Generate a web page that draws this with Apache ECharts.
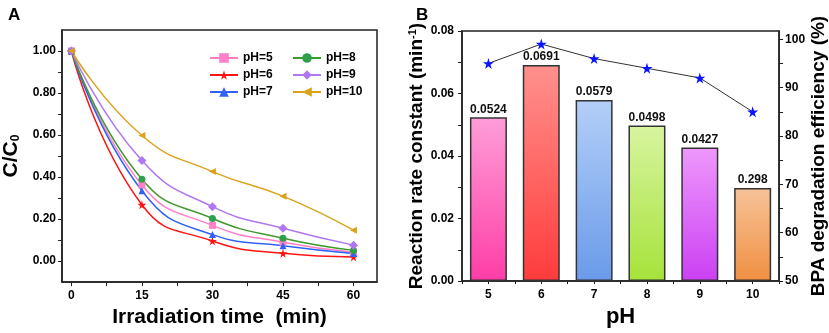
<!DOCTYPE html>
<html>
<head>
<meta charset="utf-8">
<script src="https://cdn.jsdelivr.net/npm/echarts@6/dist/echarts.min.js"></script>
<style>
  html, body { margin: 0; padding: 0; background: #fff; }
  #main { width: 829px; height: 333px; }
</style>
</head>
<body>
<div id="main"></div>
<script>
// panel A: C/C0 vs irradiation time
var times = [0, 15, 30, 45, 60];
var ph5 = [1.0, 0.362, 0.170, 0.090, 0.042];
var ph6 = [1.0, 0.268, 0.096, 0.037, 0.020];
var ph7 = [1.0, 0.335, 0.126, 0.073, 0.036];
var ph8 = [1.0, 0.390, 0.203, 0.109, 0.051];
var ph9 = [1.0, 0.479, 0.259, 0.156, 0.076];
var ph10 = [1.0, 0.598, 0.426, 0.309, 0.147];

// panel B: rate constant + efficiency vs pH
var phValues = [5, 6, 7, 8, 9, 10];
var rateK = [0.0524, 0.0691, 0.0579, 0.0498, 0.0427, 0.0298];
var rateLabels = ['0.0524', '0.0691', '0.0579', '0.0498', '0.0427', '0.298'];
var efficiency = [95, 99, 96, 94, 92, 85];

var yTicksA = [0, 0.2, 0.4, 0.6, 0.8, 1.0];
var xTicksA = [0, 15, 30, 45, 60];
var yTicksB = [0, 0.02, 0.04, 0.06, 0.08];
var y2TicksB = [50, 60, 70, 80, 90, 100];

var FONT = 'Arial, "Liberation Sans", sans-serif';
var barTop = ['#ff9ed8', '#ff918d', '#b3cff7', '#d8f4a0', '#ee98fc', '#f7c398'];
var barBottom = ['#ff3da6', '#ff3b3b', '#6a9aea', '#a5e33a', '#cb40f3', '#f08f42'];
var starPath = 'path://M50,0 L61,35 L98,35 L68,57 L79,91 L50,70 L21,91 L32,57 L2,35 L39,35 Z';

function pairs(xs, ys) {
  return xs.map(function (x, i) { return [x, ys[i]]; });
}
function steps(a, b, s) {
  var out = [];
  for (var v = a; v <= b + 1e-9; v += s) out.push(+v.toFixed(4));
  return out;
}

var chart = echarts.init(document.getElementById('main'));

var lineCommon = {
  type: 'line', smooth: 0.5, xAxisIndex: 0, yAxisIndex: 0,
  symbolSize: 7, lineStyle: { width: 1.5 }
};
function phSeries(name, ys, color, symbol, extra) {
  return Object.assign({}, lineCommon, {
    name: name, data: pairs(times, ys), symbol: symbol,
    itemStyle: { color: color }, lineStyle: { width: 1.5, color: color }
  }, extra || {});
}

var axisLabelStyle = { color: '#000', fontWeight: 'bold', fontSize: 12, fontFamily: FONT };
var axisLineStyle = { lineStyle: { color: '#222', width: 1.5 }, onZero: false };
var nameStyle = { color: '#000', fontWeight: 'bold', fontFamily: FONT };

var option = {
  backgroundColor: '#fff',
  animation: false,
  title: [
    { text: 'A', left: 3, top: 2, textStyle: { fontSize: 17, fontWeight: 'bold', fontFamily: FONT, color: '#000' } },
    { text: 'B', left: 411, top: 2, textStyle: { fontSize: 17, fontWeight: 'bold', fontFamily: FONT, color: '#000' } }
  ],
  legend: [
    {
      data: ['pH=5', 'pH=6', 'pH=7'], orient: 'vertical', left: 204, top: 47,
      itemWidth: 28, itemHeight: 12, itemGap: 5,
      textStyle: { fontSize: 12, fontWeight: 'bold', fontFamily: FONT, color: '#000' }
    },
    {
      data: ['pH=8', 'pH=9', 'pH=10'], orient: 'vertical', left: 287, top: 47,
      itemWidth: 28, itemHeight: 12, itemGap: 5,
      textStyle: { fontSize: 12, fontWeight: 'bold', fontFamily: FONT, color: '#000' }
    }
  ],
  grid: [
    { left: 59, right: 452, top: 30, bottom: 47, show: true, borderColor: '#222', borderWidth: 1.5 },
    { left: 462, right: 47, top: 31, bottom: 46, show: true, borderColor: '#222', borderWidth: 1.5 }
  ],
  xAxis: [
    {
      type: 'value', gridIndex: 0, min: -2, max: 65,
      axisLine: axisLineStyle, splitLine: { show: false },
      axisTick: { customValues: steps(0, 60, 7.5), length: 4, lineStyle: { color: '#222' } },
      axisLabel: Object.assign({ customValues: xTicksA, margin: 8 }, axisLabelStyle),
      name: 'Irradiation time  (min)', nameLocation: 'middle', nameGap: 21,
      nameTextStyle: Object.assign({ fontSize: 21 }, nameStyle)
    },
    {
      type: 'value', gridIndex: 1, min: 4.5, max: 10.5,
      axisLine: axisLineStyle, splitLine: { show: false },
      axisTick: { customValues: steps(4.5, 10.5, 0.5), length: 3, lineStyle: { color: '#222' } },
      axisLabel: Object.assign({ customValues: phValues, margin: 8 }, axisLabelStyle),
      name: 'pH', nameLocation: 'middle', nameGap: 21,
      nameTextStyle: Object.assign({ fontSize: 22 }, nameStyle)
    }
  ],
  yAxis: [
    {
      type: 'value', gridIndex: 0, min: -0.1, max: 1.1,
      axisLine: axisLineStyle, splitLine: { show: false },
      axisTick: { customValues: steps(0, 1.0, 0.1), length: 4, lineStyle: { color: '#222' } },
      axisLabel: Object.assign({
        customValues: yTicksA, margin: 6,
        formatter: function (v) { return v.toFixed(2); }
      }, axisLabelStyle),
      name: '{a|C/C}{b|0}', nameLocation: 'middle', nameGap: 40, nameRotate: 90,
      nameTextStyle: {
        rich: {
          a: Object.assign({ fontSize: 21 }, nameStyle),
          b: Object.assign({ fontSize: 12, verticalAlign: 'bottom', padding: [8, 0, 0, 0] }, nameStyle)
        }
      }
    },
    {
      type: 'value', gridIndex: 1, min: 0, max: 0.08,
      axisLine: axisLineStyle, splitLine: { show: false },
      axisTick: { customValues: steps(0, 0.08, 0.01), length: 4, lineStyle: { color: '#222' } },
      axisLabel: Object.assign({
        customValues: yTicksB, margin: 8,
        formatter: function (v) { return v.toFixed(2); }
      }, axisLabelStyle),
      name: '{a|Reaction rate constant (min}{s|-1}{a|)}', nameLocation: 'middle', nameGap: 36, nameRotate: 90,
      nameTextStyle: {
        rich: {
          a: Object.assign({ fontSize: 19 }, nameStyle),
          s: Object.assign({ fontSize: 11, verticalAlign: 'top', padding: [0, 0, 8, 0] }, nameStyle)
        }
      }
    },
    {
      type: 'value', gridIndex: 1, position: 'right', min: 50, max: 101.7,
      axisLine: axisLineStyle, splitLine: { show: false },
      axisTick: { customValues: steps(50, 100, 5), length: 4, lineStyle: { color: '#222' } },
      axisLabel: Object.assign({ customValues: y2TicksB, margin: 6 }, axisLabelStyle),
      name: 'BPA degradation efficiency (%)', nameLocation: 'middle', nameGap: 26, nameRotate: 90,
      nameTextStyle: Object.assign({ fontSize: 19 }, nameStyle)
    }
  ],
  series: [
    phSeries('pH=5', ph5, '#ff80c6', 'rect'),
    phSeries('pH=6', ph6, '#ff1414', starPath, { symbolSize: 9 }),
    phSeries('pH=7', ph7, '#2f62f5', 'triangle'),
    phSeries('pH=8', ph8, '#3f9a2c', 'circle', { itemStyle: { color: '#2fa04a' } }),
    phSeries('pH=9', ph9, '#b077f0', 'diamond', { symbolSize: 9 }),
    phSeries('pH=10', ph10, '#dca21c', 'triangle', { symbolRotate: 90 }),
    {
      type: 'bar', xAxisIndex: 1, yAxisIndex: 1, barWidth: 37,
      data: rateK.map(function (v, i) {
        return {
          value: [phValues[i], v],
          itemStyle: {
            color: new echarts.graphic.LinearGradient(0, 0, 0, 1, [
              { offset: 0, color: barTop[i] }, { offset: 1, color: barBottom[i] }
            ]),
            borderColor: '#333', borderWidth: 1.5
          }
        };
      }),
      label: {
        show: true, position: 'top', distance: 2,
        formatter: function (p) { return rateLabels[p.dataIndex]; },
        color: '#111', fontWeight: 'bold', fontSize: 12, fontFamily: FONT
      }
    },
    {
      type: 'line', xAxisIndex: 1, yAxisIndex: 2, data: pairs(phValues, efficiency),
      symbol: starPath, symbolSize: 11,
      itemStyle: { color: '#0a14ff' }, lineStyle: { color: '#333', width: 1 }
    }
  ]
};

chart.setOption(option);
</script>
</body>
</html>
